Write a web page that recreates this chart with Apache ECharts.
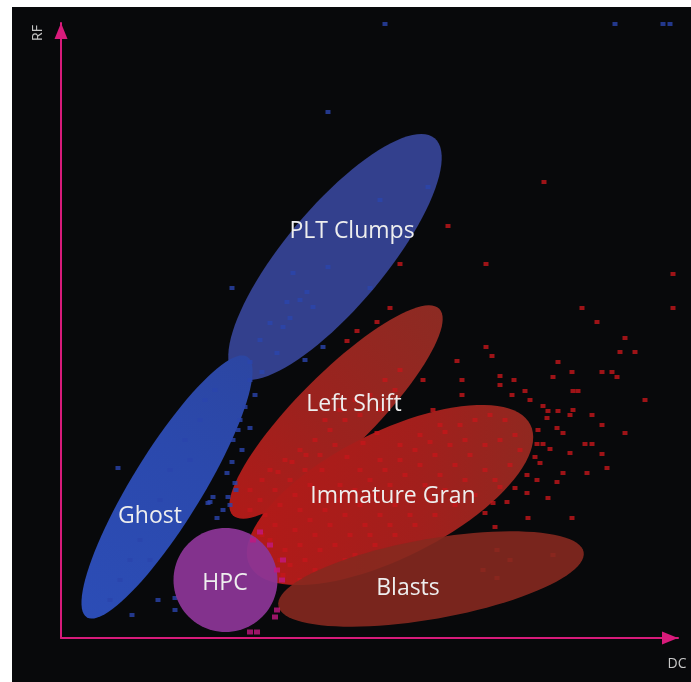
<!DOCTYPE html>
<html><head><meta charset="utf-8">
<script src="https://cdn.jsdelivr.net/npm/echarts@6/dist/echarts.min.js"></script>
<style>
html,body{margin:0;padding:0;background:#ffffff;}
#chart{position:absolute;left:12px;top:7px;width:679px;height:675px;}
</style>
</head><body><div id="chart"></div>
<script>
// ---- Axes (channel units, origin at the arrows' corner) ----
const dcMax = 617;
const rfMax = 615;

// ---- Gate ellipses: centre (DC, RF), semi-axes, tilt in degrees ----
const gateNames     = ['PLT Clumps', 'Ghost', 'Left Shift', 'Immature Gran', 'Blasts', 'HPC'];
const gateDC        = [274, 106, 275, 329, 370, 164.5];
const gateRF        = [381, 151, 226, 143, 59, 58];
const gateSemiMajor = [155, 153, 146, 157, 155, 52];
const gateSemiMinor = [50, 35, 38, 63, 40, 52];
const gateAngle     = [50, 58.4, 45, 26.6, 10, 0];

// ---- Gate labels ----
const labelNames = ['PLT Clumps', 'Ghost', 'HPC', 'Left Shift', 'Immature Gran', 'Blasts'];
const labelDC    = [291, 89, 164, 293, 332, 347];
const labelRF    = [407, 122, 55, 234, 142, 50];

// ---- Scatter events [DC, RF] ----
const blueEvents = [
  [324,614],[554,614],[602,614],[609,614],[267,526],[171,350],[319,438],[367,451],[309,350],
  [262,291],[244,278],[267,371],[232,365],[246,346],[226,336],[252,331],[209,315],[222,311],
  [199,298],[216,285],[57,170],[189,258],[184,231],[189,210],[172,198],[181,188],[166,165],
  [174,155],[152,141],[167,141],[147,135],[162,128],[156,120],[114,40],[114,28],[71,23],
  [97,38],[149,136],[201,266],[194,243],[179,218],[79,98],[89,78],[59,58],[109,168],[124,198],
  [139,218],[99,138],[69,78],[49,38],[129,178],[144,238],[154,248],[189,276],[229,320],
  [239,338],[177,208],[171,176],[175,148],[169,133]
];
const redEvents = [
  [483,456],[387,412],[425,374],[612,364],[521,330],[612,330],[339,374],[329,330],[316,316],
  [296,307],[286,297],[536,316],[564,300],[559,286],[574,286],[497,276],[541,266],[551,266],
  [556,261],[511,266],[425,291],[431,282],[396,277],[439,262],[453,258],[492,261],[401,258],
  [362,258],[517,247],[512,247],[464,247],[439,253],[401,243],[451,243],[469,238],[584,238],
  [372,228],[482,232],[487,227],[497,227],[512,228],[509,223],[531,223],[486,220],[541,213],
  [564,205],[496,210],[477,208],[502,205],[524,194],[531,194],[476,194],[482,194],[489,189],
  [509,185],[541,184],[474,181],[479,175],[502,165],[526,165],[546,170],[476,158],[496,156],
  [466,163],[439,151],[454,150],[466,145],[487,140],[432,135],[446,136],[424,125],[467,120],
  [511,120],[434,111],[436,88],[449,78],[492,83],[436,60],[422,68],[316,205],[302,195],[286,181],
  // Left Shift core
  [199,138],[214,148],[229,158],[244,168],[259,183],[274,193],[209,168],[224,178],[239,188],
  [254,198],[269,208],[284,218],[299,223],[189,128],[204,123],[219,133],[234,143],[249,153],
  [189,148],[201,158],[217,166],[231,176],[245,183],[261,168],[279,228],[294,238],[309,243],
  [324,258],[339,268],[319,228],[334,248],[264,218],
  // Immature Gran core
  [209,98],[224,88],[239,93],[254,103],[269,113],[284,123],[299,133],[314,143],[329,153],
  [344,163],[359,173],[374,183],[389,193],[404,198],[219,78],[234,108],[249,118],[264,128],
  [279,138],[294,148],[309,158],[324,168],[339,178],[354,188],[369,196],[384,206],[399,213],
  [414,218],[429,223],[444,218],[229,73],[244,78],[259,88],[274,93],[289,103],[304,113],
  [319,123],[334,133],[349,143],[364,153],[379,163],[394,173],[409,183],[424,193],[439,198],
  [454,203],[239,128],[259,138],[279,153],[299,168],[319,178],[339,193],[359,203],[379,213],
  [214,113],[201,103],[294,83],[314,93],[334,103],[354,113],[374,123],[394,133],[414,143],
  [434,158],[449,173],[459,188],[404,158],[424,168],[384,148],[369,138],[349,123],[329,113],
  [309,103],[284,78],[207,83],[222,63],[239,58],[254,68]
];
const magentaEvents = [
  [199,106],[192,98],[216,68],[221,58],[216,28],[214,21],[189,6],[196,6],[209,93],[222,78]
];

const LG = (x0,y0,x1,y1,stops) => new echarts.graphic.LinearGradient(x0,y0,x1,y1,stops);
const gateFill = {
  'PLT Clumps': '#33408d',
  'Ghost': LG(0,1,1,0,[{offset:0,color:'#2c4db6'},{offset:0.6,color:'#2b49ad'},{offset:1,color:'#2c46a2'}]),
  'Left Shift': LG(0,1,1,0,[{offset:0,color:'#b01a18'},{offset:0.45,color:'#9c221e'},{offset:1,color:'#8c2b23'}]),
  'Immature Gran': LG(0,0,1,0,[{offset:0,color:'#b21a18'},{offset:0.6,color:'#a21f1c'},{offset:1,color:'#902820'}]),
  'Blasts': '#86291f',
  'HPC': '#8b3596'
};
const gateOpacity = {'Blasts':0.9, 'HPC':0.94};

function gateData(names) {
  return names.map(n => {
    const i = gateNames.indexOf(n);
    return [gateDC[i], gateRF[i], gateSemiMajor[i], gateSemiMinor[i], gateAngle[i], i];
  });
}
function renderGate(params, api) {
  const cx = api.value(0), cy = api.value(1), a = api.value(2), b = api.value(3);
  const th = api.value(4) * Math.PI / 180;
  const name = gateNames[api.value(5)];
  const pts = [];
  for (let k = 0; k < 96; k++) {
    const ph = 2 * Math.PI * k / 96;
    const ux = a * Math.cos(ph), uy = b * Math.sin(ph);
    pts.push(api.coord([cx + ux * Math.cos(th) - uy * Math.sin(th), cy + ux * Math.sin(th) + uy * Math.cos(th)]));
  }
  return {type:'polygon', shape:{points:pts},
          style:{fill: gateFill[name], opacity: gateOpacity[name] || 1}};
}
function renderLabel(params, api) {
  const p = api.coord([api.value(0), api.value(1)]);
  return {type:'text', x:p[0], y:p[1],
          style:{text: labelNames[params.dataIndex], fill:'#eeeeee', fontSize:23,
                 fontFamily:'"Open Sans", Lato, sans-serif', align:'center', verticalAlign:'middle'}};
}

const axisCommon = {
  type:'value', min:0,
  axisLine:{show:true, onZero:false, lineStyle:{color:'#d81b7b', width:2},
            symbol:['none','triangle'], symbolSize:[13,16], symbolOffset:[0,-8]},
  axisTick:{show:false}, axisLabel:{show:false}, splitLine:{show:false}
};

const chart = echarts.init(document.getElementById('chart'));
chart.setOption({
  backgroundColor:'#08090b',
  animation:false,
  grid:{left:49, top:16, right:13, bottom:44},
  xAxis: Object.assign({}, axisCommon, {max:dcMax}),
  yAxis: Object.assign({}, axisCommon, {max:rfMax}),
  graphic:[
    {type:'text', x:26, y:26, rotation:Math.PI/2,
     style:{text:'RF', fill:'#c4c4c4', fontSize:14, fontFamily:'"Open Sans", sans-serif', align:'center', verticalAlign:'middle'}},
    {type:'text', x:665, y:657,
     style:{text:'DC', fill:'#c8c8c8', fontSize:14, fontFamily:'"Open Sans", sans-serif', align:'center', verticalAlign:'middle'}}
  ],
  series:[
    {type:'custom', name:'gates-back', z:1, clip:false, renderItem:renderGate,
     data: gateData(['PLT Clumps','Ghost','Left Shift','Immature Gran'])},
    {type:'scatter', name:'blue events', z:2, symbol:'rect', symbolSize:[5,4],
     itemStyle:{color:'#2a45ad'}, data: blueEvents},
    {type:'scatter', name:'red events', z:2, symbol:'rect', symbolSize:[5,4],
     itemStyle:{color:'#c4161a'}, data: redEvents},
    {type:'custom', name:'gates-front', z:3, clip:false, renderItem:renderGate,
     data: gateData(['Blasts','HPC'])},
    {type:'scatter', name:'magenta events', z:4, symbol:'rect', symbolSize:[6,5],
     itemStyle:{color:'#c2187f'}, data: magentaEvents},
    {type:'custom', name:'labels', z:5, clip:false, renderItem:renderLabel,
     data: labelDC.map((x,i) => [x, labelRF[i]])}
  ]
});
</script>
</body></html>
